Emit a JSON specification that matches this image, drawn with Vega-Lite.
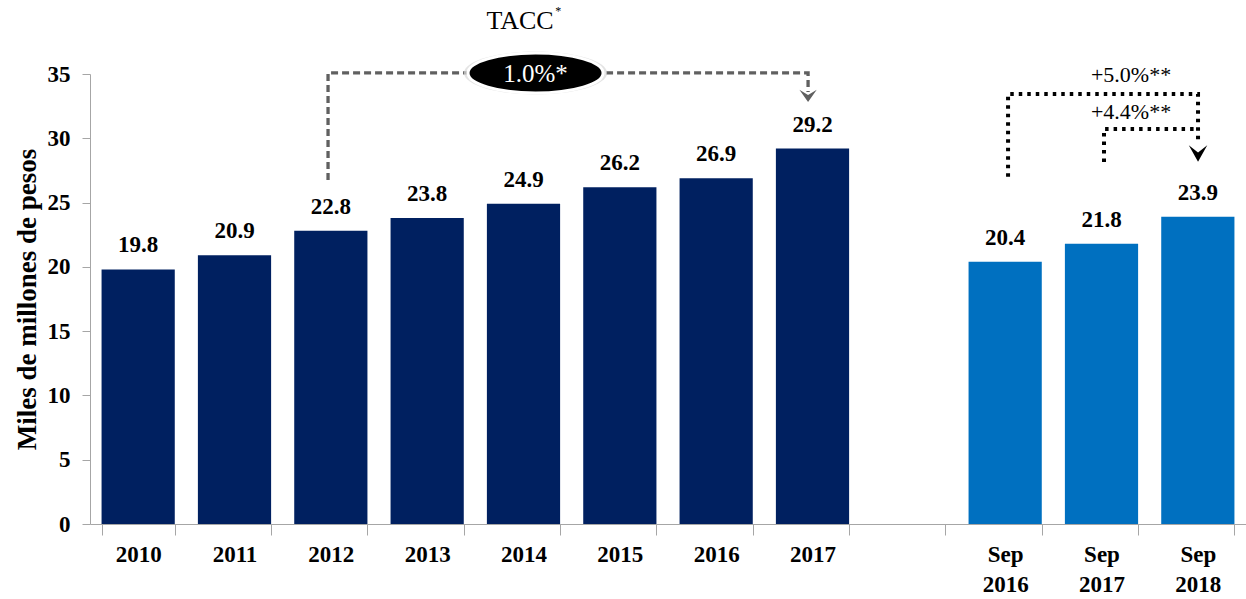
{
  "$schema": "https://vega.github.io/schema/vega-lite/v6.json",
  "width": 1156,
  "height": 450,
  "autosize": {"type": "none"},
  "padding": {"left": 90, "top": 74, "right": 0, "bottom": 75},
  "background": "white",
  "config": {"view": {"stroke": null}, "font": "Liberation Serif"},
  "datasets": {
    "bars": [
      {"cat": "2010", "value": 19.8, "group": "anual"},
      {"cat": "2011", "value": 20.9, "group": "anual"},
      {"cat": "2012", "value": 22.8, "group": "anual"},
      {"cat": "2013", "value": 23.8, "group": "anual"},
      {"cat": "2014", "value": 24.9, "group": "anual"},
      {"cat": "2015", "value": 26.2, "group": "anual"},
      {"cat": "2016", "value": 26.9, "group": "anual"},
      {"cat": "2017", "value": 29.2, "group": "anual"},
      {"cat": "Sep 2016", "value": 20.4, "group": "sep"},
      {"cat": "Sep 2017", "value": 21.8, "group": "sep"},
      {"cat": "Sep 2018", "value": 23.9, "group": "sep"}
    ],
    "tacc_line": [
      {"ord": 1, "x": 2.471, "y": 26.76},
      {"ord": 2, "x": 2.471, "y": 35.08},
      {"ord": 3, "x": 7.454, "y": 35.08},
      {"ord": 4, "x": 7.454, "y": 33.6}
    ],
    "sep_lines": [
      {"seg": "a", "ord": 1, "x": 9.53, "y": 27.0},
      {"seg": "a", "ord": 2, "x": 9.53, "y": 33.44},
      {"seg": "a", "ord": 3, "x": 11.502, "y": 33.44},
      {"seg": "a", "ord": 4, "x": 11.502, "y": 29.6},
      {"seg": "b", "ord": 1, "x": 10.526, "y": 28.16},
      {"seg": "b", "ord": 2, "x": 10.526, "y": 30.72},
      {"seg": "b", "ord": 3, "x": 11.502, "y": 30.72}
    ],
    "arrow_gray": [{"x": 7.454, "y": 33.3}],
    "arrow_black": [{"x": 11.502, "y": 28.82}],
    "ellipse": [{"x": 4.625, "y": 35.08, "label": "1.0%*"}],
    "tacc": [{"x": 4.464, "y": 39.12, "label": "TACC"}],
    "tacc_star": [{"x": 4.86, "y": 39.9, "label": "*"}],
    "growth": [
      {"x": 10.807, "y": 34.92, "label": "+5.0%**"},
      {"x": 10.807, "y": 32.04, "label": "+4.4%**"}
    ]
  },
  "encoding": {
    "y": {
      "field": "value",
      "type": "quantitative",
      "scale": {"domain": [0, 35], "nice": false},
      "axis": {
        "values": [0, 5, 10, 15, 20, 25, 30, 35],
        "title": "Miles de millones de pesos",
        "titleFont": "Liberation Serif",
        "titleFontSize": 27,
        "titleFontWeight": "bold",
        "titleColor": "black",
        "titlePadding": 6,
        "labelFont": "Liberation Serif",
        "labelFontSize": 23,
        "labelFontWeight": "bold",
        "labelColor": "black",
        "labelPadding": 12,
        "tickSize": 8,
        "tickColor": "#A6A6A6",
        "domainColor": "#A6A6A6",
        "grid": false
      }
    }
  },
  "layer": [
    {
      "data": {"name": "bars"},
      "encoding": {
        "x": {
          "field": "cat",
          "type": "nominal",
          "scale": {
            "domain": ["2010", "2011", "2012", "2013", "2014", "2015", "2016", "2017", " ", "Sep 2016", "Sep 2017", "Sep 2018"],
            "paddingInner": 0.24,
            "paddingOuter": 0.12
          },
          "axis": {
            "title": null,
            "labelAngle": 0,
            "labelExpr": "split(datum.label, ' ')",
            "labelFont": "Liberation Serif",
            "labelFontSize": 23,
            "labelFontWeight": "bold",
            "labelColor": "black",
            "labelLineHeight": 30,
            "labelPadding": 8,
            "tickBand": "extent",
            "tickSize": 11,
            "tickColor": "#A6A6A6",
            "domainColor": "#A6A6A6"
          }
        }
      },
      "layer": [
        {
          "mark": {"type": "bar"},
          "encoding": {
            "color": {
              "field": "group",
              "type": "nominal",
              "scale": {"domain": ["anual", "sep"], "range": ["#002060", "#0070C0"]},
              "legend": null
            }
          }
        },
        {
          "mark": {"type": "text", "font": "Liberation Serif", "fontSize": 23, "fontWeight": "bold", "color": "black", "baseline": "alphabetic", "dy": -17},
          "encoding": {"text": {"field": "value", "type": "quantitative", "format": ".1f"}}
        }
      ]
    },
    {
      "encoding": {
        "x": {"field": "x", "type": "quantitative", "scale": {"domain": [0, 12], "nice": false, "zero": false}, "axis": null},
        "y": {"field": "y", "type": "quantitative"}
      },
      "layer": [
        {
          "data": {"name": "tacc_line"},
          "mark": {"type": "line", "color": "#606060", "strokeWidth": 3.3, "strokeDash": [7, 4], "strokeCap": "butt", "strokeJoin": "miter"},
          "encoding": {"order": {"field": "ord", "type": "quantitative"}}
        },
        {
          "data": {"name": "sep_lines"},
          "mark": {"type": "line", "color": "black", "strokeWidth": 4, "strokeDash": [3.5, 5], "strokeCap": "butt", "strokeJoin": "miter"},
          "encoding": {
            "order": {"field": "ord", "type": "quantitative"},
            "detail": {"field": "seg", "type": "nominal"}
          }
        },
        {
          "data": {"name": "arrow_gray"},
          "mark": {"type": "point", "shape": "M -1 -0.7 L 0 0.7 L 1 -0.7 L 0 -0.1 Z", "size": 300, "filled": true, "color": "#606060", "opacity": 1}
        },
        {
          "data": {"name": "arrow_black"},
          "mark": {"type": "point", "shape": "M -1 -0.9 L 0 0.9 L 1 -0.9 L 0 -0.1 Z", "size": 340, "filled": true, "color": "black", "opacity": 1}
        },
        {
          "data": {"name": "ellipse"},
          "mark": {"type": "point", "shape": "M -1 0 A 1 0.3 0 1 0 1 0 A 1 0.3 0 1 0 -1 0 Z", "size": 20500, "filled": true, "color": "#d9d9d9", "opacity": 0.7}
        },
        {
          "data": {"name": "ellipse"},
          "mark": {"type": "point", "shape": "M -1 0 A 1 0.296 0 1 0 1 0 A 1 0.296 0 1 0 -1 0 Z", "size": 18225, "filled": true, "fill": "black", "stroke": "white", "strokeWidth": 3, "opacity": 1}
        },
        {
          "data": {"name": "ellipse"},
          "mark": {"type": "text", "font": "Liberation Serif", "fontSize": 25, "color": "white", "baseline": "middle", "align": "center", "dy": 1},
          "encoding": {"text": {"field": "label"}}
        },
        {
          "data": {"name": "tacc"},
          "mark": {"type": "text", "font": "Liberation Serif", "fontSize": 26, "color": "black", "baseline": "middle", "align": "center"},
          "encoding": {"text": {"field": "label"}}
        },
        {
          "data": {"name": "tacc_star"},
          "mark": {"type": "text", "font": "Liberation Serif", "fontSize": 12, "color": "black", "baseline": "middle", "align": "center"},
          "encoding": {"text": {"field": "label"}}
        },
        {
          "data": {"name": "growth"},
          "mark": {"type": "text", "font": "Liberation Serif", "fontSize": 22, "color": "black", "baseline": "middle", "align": "center"},
          "encoding": {"text": {"field": "label"}}
        }
      ]
    }
  ],
  "resolve": {"scale": {"x": "independent"}}
}
